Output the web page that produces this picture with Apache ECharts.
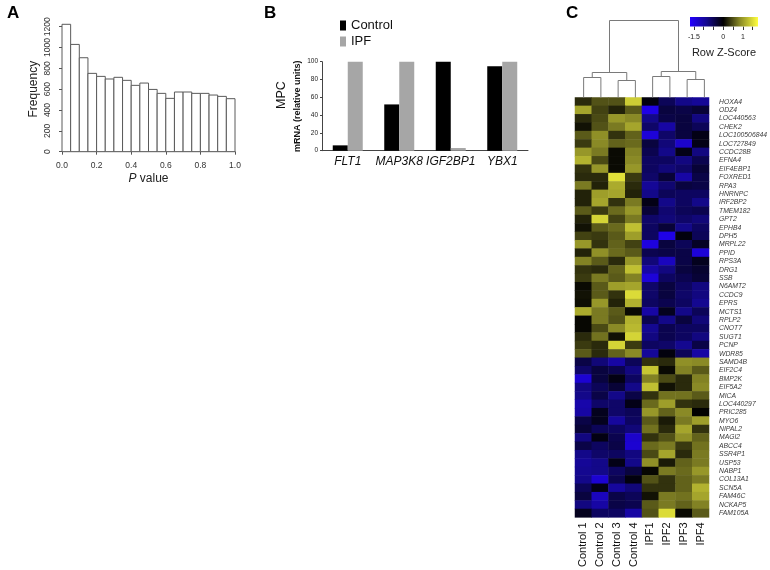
<!DOCTYPE html>
<html><head><meta charset="utf-8">
<script src="https://cdn.jsdelivr.net/npm/echarts@6/dist/echarts.min.js"></script>
<style>html,body{margin:0;padding:0;background:#fff}#c{width:770px;height:570px}</style>
</head><body><div id="c"></div><script>
// ---- Panel A: histogram of P values ----
const binEdges = [0,0.05,0.1,0.15,0.2,0.25,0.3,0.35,0.4,0.45,0.5,0.55,0.6,0.65,0.7,0.75,0.8,0.85,0.9,0.95,1.0];
const histCounts = [1223,1030,902,752,723,698,714,685,637,659,598,560,512,573,573,560,560,544,531,509];

// ---- Panel B: MPC mRNA ----
const bGenes = ['FLT1','MAP3K8','IGF2BP1','YBX1'];
const bControl = [6,52,100,95];
const bIPF = [100,100,3,100];

// ---- Panel C: heatmap ----
const samples = ['Control 1','Control 2','Control 3','Control 4','IPF1','IPF2','IPF3','IPF4'];
const genes = ['HOXA4','ODZ4','LOC440563','CHEK2','LOC100506844','LOC727849','CCDC28B','EFNA4','EIF4EBP1','FOXRED1',
 'RPA3','HNRNPC','IRF2BP2','TMEM182','GPT2','EPHB4','DPH5','MRPL22','PPID','RPS3A',
 'DRG1','SSB','N6AMT2','CCDC9','EPRS','MCTS1','RPLP2','CNOT7','SUGT1','PCNP',
 'WDR85','SAMD4B','EIF2C4','BMP2K','EIF5A2','MICA','LOC440297','PRIC285','MYO6','NIPAL2',
 'MAGI2','ABCC4','SSR4P1','USP53','NABP1','COL13A1','SCN5A','FAM46C','NCKAP5','FAM105A'];
const zScores = [
 [0.30,0.55,0.55,1.40,-0.05,-0.50,-0.80,-0.90],
 [1.10,0.45,0.25,0.60,-1.50,-0.35,-0.40,-0.30],
 [0.30,0.50,1.00,0.90,-0.80,-0.40,-0.35,-0.75],
 [0.15,0.55,0.80,1.10,-0.60,-1.00,-0.35,-0.50],
 [0.60,0.95,0.35,0.65,-1.40,-0.60,-0.35,-0.10],
 [0.40,0.90,0.65,0.70,-0.35,-0.70,-1.30,-0.10],
 [1.00,0.80,0.10,0.85,-0.45,-0.80,-0.10,-0.75],
 [1.20,0.50,0.10,0.90,-0.55,-0.55,-0.75,-0.45],
 [0.35,1.00,0.10,1.00,-0.55,-0.70,-0.60,-0.30],
 [0.30,0.30,1.55,0.40,-0.60,-0.30,-1.00,-0.40],
 [0.80,0.25,1.15,0.30,-0.90,-0.65,-0.35,-0.40],
 [0.25,1.05,1.10,0.25,-0.80,-0.50,-0.55,-0.55],
 [0.25,1.10,0.35,0.80,-0.10,-0.80,-0.55,-0.80],
 [0.60,0.40,0.70,1.00,-0.30,-0.65,-0.50,-0.45],
 [0.25,1.45,0.45,0.80,-0.60,-0.70,-0.60,-0.70],
 [0.15,0.60,0.70,1.30,-0.55,-0.30,-0.80,-0.55],
 [0.45,0.40,0.60,1.05,-0.55,-1.50,-0.05,-0.50],
 [1.00,0.35,0.65,0.45,-1.45,-0.35,-0.50,-0.20],
 [0.25,0.95,0.70,0.60,-0.45,-0.40,-0.40,-1.40],
 [0.85,0.60,0.30,1.00,-0.70,-1.20,-0.40,-0.15],
 [0.35,0.30,0.65,1.30,-1.00,-0.75,-0.35,-0.25],
 [0.40,0.80,0.60,0.85,-1.40,-0.55,-0.45,-0.30],
 [0.10,0.60,1.05,1.10,-0.60,-0.35,-0.55,-0.75],
 [0.15,0.60,0.35,1.50,-0.60,-0.35,-0.60,-0.75],
 [0.12,1.00,0.25,1.20,-0.55,-0.45,-0.55,-0.85],
 [1.15,0.80,0.60,0.10,-1.00,-0.15,-0.80,-0.50],
 [0.08,0.80,0.55,1.20,-0.45,-0.80,-0.35,-0.70],
 [0.08,0.50,0.90,1.25,-0.85,-0.45,-0.55,-0.55],
 [0.30,0.75,0.15,1.45,-0.75,-0.45,-0.55,-0.75],
 [0.40,0.30,1.45,0.40,-0.55,-0.60,-0.85,-0.40],
 [0.60,0.30,0.65,0.90,-0.90,-0.05,-0.50,-1.00],
 [-0.40,-0.70,-1.00,-0.50,0.35,0.30,0.95,0.90],
 [-0.60,-0.35,-0.45,-0.75,1.35,0.10,0.85,0.60],
 [-1.35,-0.35,-0.08,-0.55,0.85,0.50,0.30,0.85],
 [-0.75,-0.50,-0.30,-0.80,1.30,0.15,0.30,0.90],
 [-0.80,-0.40,-0.80,-0.40,0.35,0.75,0.75,0.60],
 [-1.05,-0.60,-0.60,-0.10,0.70,1.05,0.35,0.30],
 [-1.00,-0.15,-0.60,-0.50,1.00,0.65,0.90,0.05],
 [-0.40,-0.15,-0.95,-0.55,0.60,0.20,0.80,1.05],
 [-0.30,-0.50,-0.55,-0.70,0.75,0.30,1.10,0.35],
 [-0.75,-0.08,-0.45,-1.30,0.35,0.55,0.95,0.65],
 [-0.40,-0.55,-0.40,-1.35,0.70,0.80,0.40,0.75],
 [-0.80,-0.60,-0.55,-0.75,0.50,1.10,0.30,0.80],
 [-0.90,-0.80,-0.10,-0.80,0.95,0.20,0.65,0.80],
 [-0.85,-0.80,-0.55,-0.35,0.08,0.80,0.70,1.00],
 [-0.80,-1.35,-0.45,-0.05,0.55,0.35,0.65,0.80],
 [-0.50,-0.10,-0.95,-0.70,0.35,0.35,0.65,1.20],
 [-0.35,-1.20,-0.40,-0.50,0.15,0.80,0.75,1.10],
 [-0.75,-1.00,-0.40,-0.45,0.60,0.80,0.65,0.85],
 [-0.15,-0.55,-0.55,-1.00,0.55,1.50,0.10,0.60]
];
// dendrogram merges: [leftX, rightX, height, leftChildHeight, rightChildHeight] (x in column units)
const dendroMerges = [
 [0.5,1.5,20,0,0],
 [2.5,3.5,17,0,0],
 [1.0,3.0,25,20,17],
 [4.5,5.5,21,0,0],
 [6.5,7.5,18,0,0],
 [5.0,7.0,26,21,18],
 [2.0,6.0,77,25,26]
];
const zMin = -1.7, zMax = 1.77;
const keyTicks = [-1.5,-1,-0.5,0,0.5,1,1.5];
const keyLabels = [-1.5,0,1];
// colour ramp: blue -> black -> yellow (with slightly lifted mid-tones)
const rampStops = [-1.7,-0.85,0,0.85,1.77];
const rampColors = ['#2200ff','#14088e','#000000','#8a8a26','#ffff40'];

const FONT = 'Liberation Sans, Arial, Helvetica, sans-serif';
const heatData = [];
zScores.forEach((row, r) => row.forEach((v, c) => heatData.push([c, r, v])));

const chart = echarts.init(document.getElementById('c'), null, {renderer:'canvas'});
const noSplit = {show:false};
chart.setOption({
  animation:false,
  backgroundColor:'#fff',
  textStyle:{fontFamily:FONT},
  title:[
    {text:'A', left:2, top:0, textStyle:{fontSize:17, fontWeight:'bold', color:'#000', fontFamily:FONT}},
    {text:'B', left:259, top:0, textStyle:{fontSize:17, fontWeight:'bold', color:'#000', fontFamily:FONT}},
    {text:'C', left:561, top:0, textStyle:{fontSize:17, fontWeight:'bold', color:'#000', fontFamily:FONT}}
  ],
  legend:{
    data:['Control','IPF'], orient:'vertical', left:335, top:14, icon:'rect',
    itemWidth:6, itemHeight:10, itemGap:3,
    textStyle:{fontSize:13, color:'#111', fontFamily:FONT}
  },
  graphic:[
    {type:'text', x:282, y:95, rotation:Math.PI/2,
     style:{text:'MPC', fill:'#111', font:'12.5px '+FONT, textAlign:'center', textVerticalAlign:'middle'}}
  ],
  visualMap:{show:false, type:'continuous', seriesIndex:3, min:zMin, max:zMax, inRange:{color:rampColors}},
  grid:[
    {left:62, top:26.7, width:173, height:125},
    {left:322, top:61.7, width:206, height:89},
    {left:575, top:97.5, width:138, height:420.5},
    {left:575, top:20, width:138, height:77.5},
    {left:690, top:17, width:68, height:9.5}
  ],
  xAxis:[
    {gridIndex:0, type:'value', min:0, max:1, interval:0.2, offset:5,
     axisLine:{show:true, lineStyle:{color:'#555'}}, axisTick:{show:true, length:3, lineStyle:{color:'#555'}},
     axisLabel:{fontSize:8.5, margin:4, color:'#333', formatter:v=>v.toFixed(1)}, splitLine:noSplit,
     name:'{i|P} value', nameLocation:'middle', nameGap:16,
     nameTextStyle:{fontSize:12, color:'#222', rich:{i:{fontStyle:'italic', fontSize:12, color:'#222'}}}},
    {gridIndex:1, type:'category', data:bGenes,
     axisLine:{show:true, lineStyle:{color:'#444'}}, axisTick:{show:false},
     axisLabel:{fontSize:12, fontStyle:'italic', color:'#111', margin:5, interval:0, hideOverlap:false}},
    {gridIndex:2, type:'category', data:samples, axisLine:{show:false}, axisTick:{show:false},
     axisLabel:{rotate:90, fontSize:11, color:'#111', margin:5, interval:0}},
    {gridIndex:3, type:'value', min:0, max:8, show:false},
    {gridIndex:4, type:'value', min:zMin, max:zMax, axisLine:{show:false},
     axisTick:{show:true, length:3.5, customValues:keyTicks, lineStyle:{color:'#333'}},
     axisLabel:{show:true, customValues:keyLabels, fontSize:7, margin:7, color:'#222'}, splitLine:noSplit,
     name:'Row Z-Score', nameLocation:'middle', nameGap:21, nameTextStyle:{fontSize:11, color:'#222'}}
  ],
  yAxis:[
    {gridIndex:0, type:'value', min:0, max:1200, interval:200, offset:9,
     axisLine:{show:true, lineStyle:{color:'#555'}}, axisTick:{show:true, length:3, lineStyle:{color:'#555'}},
     axisLabel:{rotate:90, fontSize:8.5, margin:1, color:'#333', showMaxLabel:true, showMinLabel:true,
                hideOverlap:false, formatter:v=>String(v)}, splitLine:noSplit,
     name:'Frequency', nameLocation:'middle', nameGap:13, nameTextStyle:{fontSize:12, color:'#222'}},
    {gridIndex:1, type:'value', min:0, max:100, interval:20,
     axisLine:{show:true, lineStyle:{color:'#444'}}, axisTick:{show:true, length:2, lineStyle:{color:'#444'}},
     axisLabel:{fontSize:6.5, margin:4, color:'#222'}, splitLine:noSplit,
     name:'mRNA (relative units)', nameLocation:'middle', nameGap:20,
     nameTextStyle:{fontSize:9, fontWeight:'bold', color:'#111'}},
    {gridIndex:2, type:'category', data:genes, inverse:true, position:'right',
     axisLine:{show:false}, axisTick:{show:false},
     axisLabel:{fontSize:6.8, fontStyle:'italic', color:'#3a3a3a', margin:10, interval:0}},
    {gridIndex:3, type:'value', min:0, max:77.5, show:false},
    {gridIndex:4, type:'value', min:0, max:1, show:false}
  ],
  series:[
    {type:'custom', xAxisIndex:0, yAxisIndex:0, clip:false,
     data:histCounts.map((c,i)=>[binEdges[i], binEdges[i+1], c]),
     renderItem:(params, api)=>{
       const p0 = api.coord([api.value(0), 0]);
       const p1 = api.coord([api.value(1), api.value(2)]);
       return {type:'rect', shape:{x:p0[0], y:p1[1], width:p1[0]-p0[0], height:p0[1]-p1[1]},
               style:{fill:'#fff', stroke:'#5a5a5a', lineWidth:1}};
     }},
    {type:'bar', name:'Control', xAxisIndex:1, yAxisIndex:1, data:bControl, barWidth:15, barGap:'0%',
     itemStyle:{color:'#000'}},
    {type:'bar', name:'IPF', xAxisIndex:1, yAxisIndex:1, data:bIPF, barWidth:15, barGap:'0%',
     itemStyle:{color:'#a6a6a6'}},
    {type:'heatmap', xAxisIndex:2, yAxisIndex:2, data:heatData, itemStyle:{borderWidth:0}},
    {type:'custom', xAxisIndex:3, yAxisIndex:3, clip:false, data:dendroMerges,
     renderItem:(params, api)=>{
       const xl = api.value(0), xr = api.value(1), h = api.value(2), hl = api.value(3), hr = api.value(4);
       const pts = [api.coord([xl,hl]), api.coord([xl,h]), api.coord([xr,h]), api.coord([xr,hr])];
       return {type:'polyline', shape:{points:pts}, style:{stroke:'#7a7a7a', lineWidth:1, fill:null}};
     }},
    {type:'custom', xAxisIndex:4, yAxisIndex:4, clip:false, data:[[zMin, zMax]],
     renderItem:(params, api)=>{
       const p0 = api.coord([api.value(0), 0]);
       const p1 = api.coord([api.value(1), 1]);
       const stops = rampStops.map((s,i)=>({offset:(s-zMin)/(zMax-zMin), color:rampColors[i]}));
       return {type:'rect', shape:{x:p0[0], y:p1[1], width:p1[0]-p0[0], height:p0[1]-p1[1]},
         style:{fill:new echarts.graphic.LinearGradient(0,0,1,0,stops)}};
     }}
  ]
});
</script></body></html>
